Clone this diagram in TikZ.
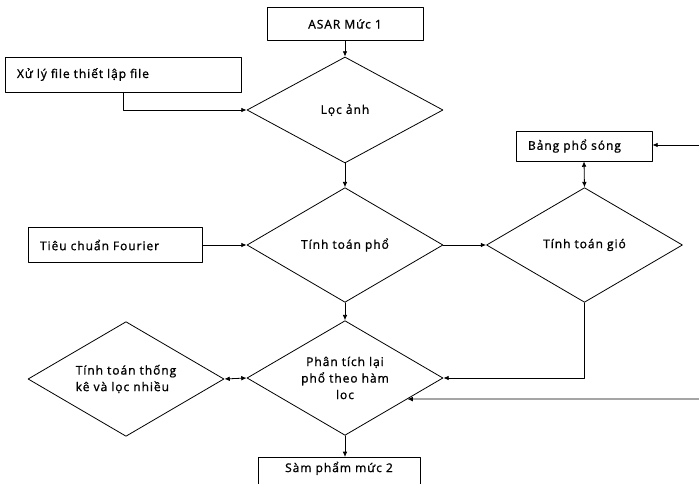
\documentclass[tikz,border=0pt]{standalone}
\usepackage{fontspec}
\setmainfont{Open Sans}[FakeBold=1.2,LetterSpace=8]
\usetikzlibrary{arrows.meta,shapes.geometric,calc}

\begin{document}
\begin{tikzpicture}[x=0.75pt,y=-0.75pt,line cap=round,line join=round,
    every node/.style={font=\fontsize{9}{12.4}\selectfont},
    box/.style={draw,line width=0.6pt,rectangle,inner sep=0pt},
    leftbox/.style={box,inner xsep=9pt,align=left},
    decision/.style={draw,line width=0.6pt,diamond,aspect=1.7,inner sep=0pt,
        minimum width=147pt,minimum height=86pt,align=center},
    arr/.style={line width=0.6pt,-{Latex[length=4pt,width=3.5pt]}},
    dbl/.style={line width=0.6pt,{Latex[length=4pt,width=3.5pt]}-{Latex[length=4pt,width=3.5pt]}}]
    \useasboundingbox (0,0) rectangle (699,484);
    \clip (0,0) rectangle (699,484);
    % boxes
    \node[box,minimum width=117pt,minimum height=24.75pt] (asar) at (345,24) {ASAR Mức 1};
    \node[leftbox,text width=159pt,minimum height=26.25pt] (xuly) at (123,74.5) {Xử lý file thiết lập file};
    \node[leftbox,text width=112.5pt,minimum height=26.25pt] (fourier) at (115,245) {Tiêu chuẩn Fourier};
    \node[leftbox,text width=84pt,minimum height=22.5pt] (bangpho) at (584,146) {Bảng phổ sóng};
    \node[box,minimum width=121.5pt,inner ysep=4pt,text height=7pt,text depth=25pt,anchor=north] (sanpham) at (339,457) {Sàm phẩm mức 2};
    % diamonds
    \node[decision,minimum height=79.5pt] (locanh) at (345,110) {Lọc ảnh};
    \node[decision] (tinhpho) at (345,245) {Tính toán phổ};
    \node[decision] (tinhgio) at (584.5,245) {Tính toán gió};
    \node[decision] (phantich) at (345,378) {Phân tích lại\\phổ theo hàm\\loc};
    \node[decision,align=left] (thongke) at (126,379) {Tính toán thống\\kê và lọc nhiều};
    % free ends on the right border
    \coordinate (inbang) at (699,145);
    \coordinate (inloc) at (699,399);
    % connectors
    \draw[arr] (asar.south) -- (locanh.north);
    \draw[arr] (xuly.south) |- (locanh.west);
    \draw[arr] (locanh.south) -- (tinhpho.north);
    \draw[arr] (fourier.east) -- (tinhpho.west);
    \draw[arr] (tinhpho.east) -- (tinhgio.west);
    \draw[arr] (inbang) -- (bangpho.east |- inbang);
    \draw[dbl] (bangpho.south) -- (tinhgio.north);
    \draw[arr] (tinhpho.south) -- (phantich.north);
    \draw[arr] (tinhgio.south) |- (phantich.east);
    \draw[arr] (inloc) -- ($(phantich.east)!0.365!(phantich.south)$);
    \draw[dbl] (thongke.east) -- (phantich.west);
    \draw[arr] (phantich.south) -- (phantich.south |- sanpham.north);
\end{tikzpicture}
\end{document}
